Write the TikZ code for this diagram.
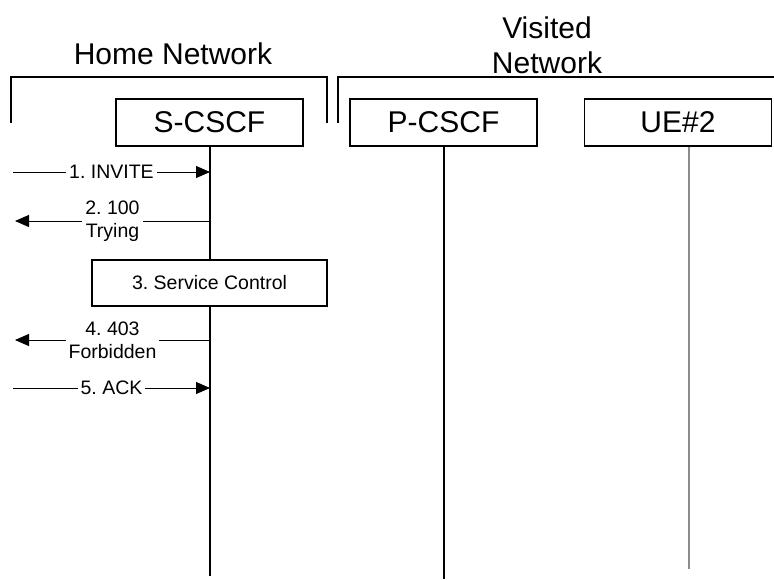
\documentclass[tikz,border=0pt]{standalone}
\usepackage{fontspec}
\setmainfont{Liberation Sans}
\usetikzlibrary{arrows.meta}
\frenchspacing
\tikzset{
    entity/.style={draw, line width=1.3pt, fill=white, minimum width=187pt, minimum height=47pt, inner sep=0pt, font=\fontsize{30}{35}\selectfont},
    netlabel/.style={font=\fontsize{30}{35}\selectfont, align=center, inner sep=0pt},
    bracket/.style={line width=1.2pt},
    lifeline/.style={line width=1.6pt},
    % messages
    msg/.style={line width=1pt, -{Triangle[length=14pt, width=12pt]}},
    msglabel/.style={fill=white, font=\fontsize{19.5}{23}\selectfont, align=center, inner sep=3pt},
    action/.style={draw, line width=1.3pt, fill=white, minimum width=235pt, minimum height=46pt, inner sep=0pt, font=\fontsize{19.5}{23}\selectfont}
}
\begin{document}
\begin{tikzpicture}[x=1pt, y=-1pt]
\useasboundingbox (0,0) rectangle (774,579);

% Network labels
\node[netlabel, anchor=base] (home) at (173,64) {Home Network};
\node[netlabel] (visited) at (547,45) {Visited\\Network};

% Network brackets
\draw[bracket] (11,123) -- (11,77) -- (327,77) -- (327,123);
\draw[bracket] (338,123) -- (338,77) -- (774,77);

% Lifeline ends
\coordinate (sEnd) at (210,576);
\coordinate (pEnd) at (444,579);
\coordinate (uEnd) at (689,569);

% Entities
\node[entity] (scscf) at (209.5,122.5) {S-CSCF};
\node[entity] (pcscf) at (443.5,122.5) {P-CSCF};
\node[entity] (ue) at (678,122.5) {UE\#2};

% Lifelines
\draw[lifeline] (scscf.south -| sEnd) -- (sEnd);
\draw[lifeline] (pcscf.south -| pEnd) -- (pEnd);
\draw[lifeline, gray!90] (ue.south -| uEnd) -- (uEnd);

% Message ends
\coordinate (in1) at (13,172);
\coordinate (out2) at (15,221);
\coordinate (out4) at (15,340);
\coordinate (in5) at (13,388);

% Messages
\draw[msg] (in1) -- node[msglabel] {1. INVITE} (in1 -| sEnd);
\draw[msg] (out2 -| sEnd) -- node[msglabel] {2. 100\\Trying} (out2);
\node[action] (svc) at (209.5,283) {3. Service Control};
\draw[msg] (out4 -| sEnd) -- node[msglabel] {4. 403\\Forbidden} (out4);
\draw[msg] (in5) -- node[msglabel] {5. ACK} (in5 -| sEnd);
\end{tikzpicture}
\end{document}
